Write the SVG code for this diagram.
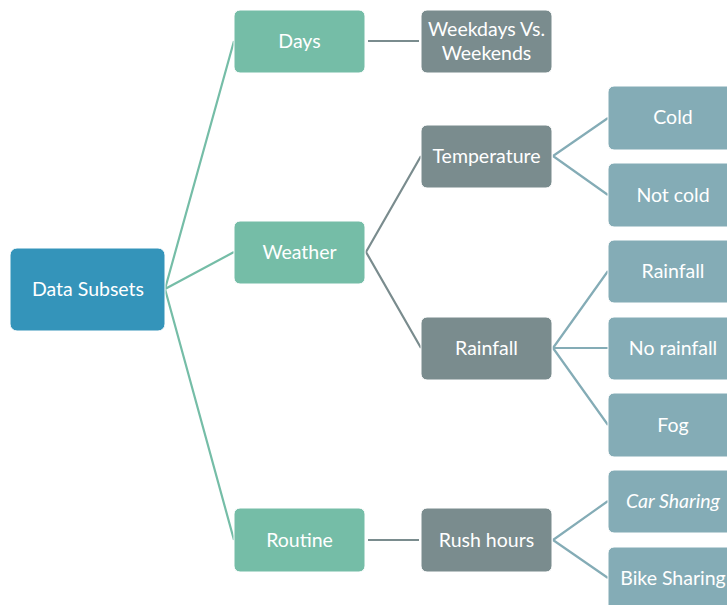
<svg xmlns="http://www.w3.org/2000/svg" width="727" height="605" viewBox="0 0 727 605">
  <style>
    .box { stroke: #ffffff; stroke-width: 1; }
    .root { fill: #3494BA; }
    .l1 { fill: #75BDA7; }
    .l2 { fill: #7A8C8E; }
    .l3 { fill: #84ACB6; }
    .lbl { font-family: Lato, "Open Sans", sans-serif; font-size: 19.5px; fill: #ffffff; text-anchor: middle; dominant-baseline: central; }
    .c1 { stroke: #75BDA7; stroke-width: 2.2; fill: none; }
    .c2 { stroke: #7A8C8E; stroke-width: 2.2; fill: none; }
    .c3 { stroke: #84ACB6; stroke-width: 2.2; fill: none; }
  </style>
  <rect width="727" height="605" fill="#ffffff"/>

  <!-- connectors -->
  <g id="connectors">
    <path class="c1" d="M165 289 L234 41 M165 289 L234 252 M165 289 L234 540"/>
    <path class="c2" d="M368 41 L419 41 M366 252 L421 156 M366 252 L421 348 M368 540 L419 540"/>
    <path class="c3" d="M553 156 L608 118 M553 156 L608 195"/>
    <path class="c3" d="M553 348 L608 271 M553 348 L608 348 M553 348 L608 425"/>
    <path class="c3" d="M553 540 L608 501 M553 540 L608 578"/>
  </g>

  <!-- root -->
  <g id="data-subsets">
    <rect class="box root" x="10" y="248" width="155" height="83" rx="7"/>
    <text class="lbl" x="88" y="288.5">Data Subsets</text>
  </g>

  <!-- level 1 -->
  <g id="days">
    <rect class="box l1" x="234" y="10" width="131" height="63" rx="6"/>
    <text class="lbl" x="299.5" y="40.5">Days</text>
  </g>
  <g id="weather">
    <rect class="box l1" x="234" y="221" width="131" height="63" rx="6"/>
    <text class="lbl" x="299.5" y="251.5">Weather</text>
  </g>
  <g id="routine">
    <rect class="box l1" x="234" y="508" width="131" height="64" rx="6"/>
    <text class="lbl" x="299.5" y="539.5">Routine</text>
  </g>

  <!-- level 2 -->
  <g id="weekdays">
    <rect class="box l2" x="421" y="10" width="131" height="63" rx="6"/>
    <text class="lbl" x="486.5" y="28.5">Weekdays Vs.</text>
    <text class="lbl" x="486.5" y="52">Weekends</text>
  </g>
  <g id="temperature">
    <rect class="box l2" x="421" y="125" width="131" height="63" rx="6"/>
    <text class="lbl" x="486.5" y="155.5">Temperature</text>
  </g>
  <g id="rainfall">
    <rect class="box l2" x="421" y="317" width="131" height="63" rx="6"/>
    <text class="lbl" x="486.5" y="347.5">Rainfall</text>
  </g>
  <g id="rush-hours">
    <rect class="box l2" x="421" y="508" width="131" height="64" rx="6"/>
    <text class="lbl" x="486.5" y="539.5">Rush hours</text>
  </g>

  <!-- level 3 -->
  <g id="cold">
    <rect class="box l3" x="608" y="86" width="131" height="64" rx="6"/>
    <text class="lbl" x="673" y="116.5">Cold</text>
  </g>
  <g id="not-cold">
    <rect class="box l3" x="608" y="163" width="131" height="64" rx="6"/>
    <text class="lbl" x="673" y="194.5">Not cold</text>
  </g>
  <g id="rainfall-yes">
    <rect class="box l3" x="608" y="240" width="131" height="63" rx="6"/>
    <text class="lbl" x="673" y="270.5">Rainfall</text>
  </g>
  <g id="no-rainfall">
    <rect class="box l3" x="608" y="317" width="131" height="63" rx="6"/>
    <text class="lbl" x="673" y="347.5">No rainfall</text>
  </g>
  <g id="fog">
    <rect class="box l3" x="608" y="393" width="131" height="64" rx="6"/>
    <text class="lbl" x="673" y="424.5">Fog</text>
  </g>
  <g id="car-sharing">
    <rect class="box l3" x="608" y="470" width="131" height="63" rx="6"/>
    <text class="lbl" x="673" y="500.5" font-style="italic">Car Sharing</text>
  </g>
  <g id="bike-sharing">
    <rect class="box l3" x="608" y="547" width="131" height="64" rx="6"/>
    <text class="lbl" x="673" y="577.5">Bike Sharing</text>
  </g>
</svg>
